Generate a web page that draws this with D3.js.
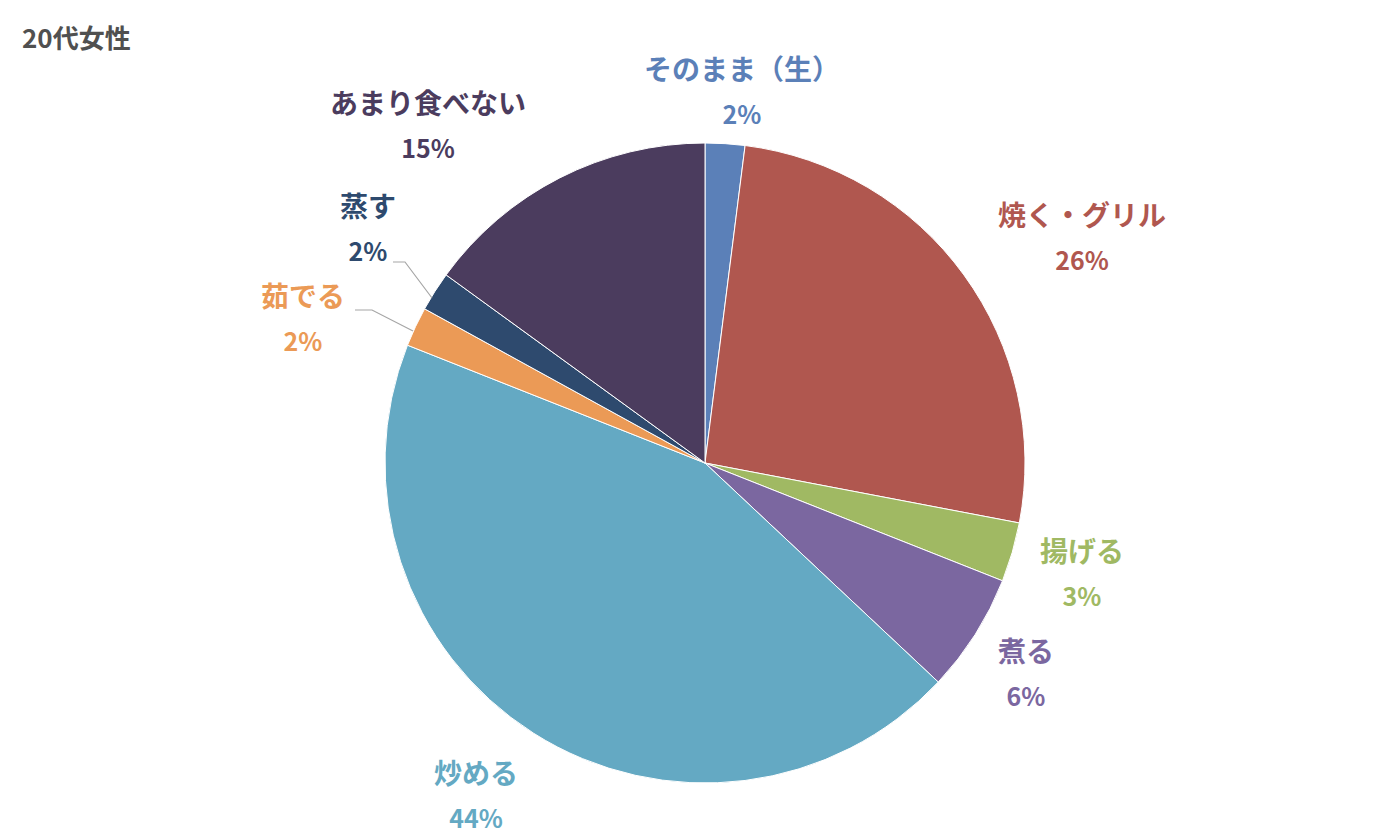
<!DOCTYPE html>
<html><head><meta charset="utf-8">
<script src="https://cdn.jsdelivr.net/npm/d3@7"></script>
<style>body{margin:0;background:#fff}text{font-family:"Noto Sans CJK JP","Noto Sans",sans-serif;font-weight:bold}</style>
</head><body><svg id="c" width="1400" height="840"></svg>
<script>
const categories = ["そのまま（生）","焼く・グリル","揚げる","煮る","炒める","茹でる","蒸す","あまり食べない"];
const values = [2,26,3,6,44,2,2,15];
const colors = ["#5B80B8","#B0574F","#A0B963","#7B67A0","#64A9C3","#EB9A56","#2E4A6E","#4B3C5E"];
const labelPos = [[742,70],[1082,216],[1082,552],[1026,652],[476,774],[303,297],[368,207],[428,104]];
const leaders = {5:[[355,310],[372,310],[413,331]],6:[[393,262],[405,262],[432,298]]};

const svg = d3.select("#c");
const cx=705, cy=463, r=320;
svg.append("text").attr("x",22).attr("y",48).attr("font-size",26).attr("fill","#505050").text("20代女性");
const pie = d3.pie().sort(null).value(d=>d)(values);
const arc = d3.arc().innerRadius(0).outerRadius(r);
const g = svg.append("g").attr("transform",`translate(${cx},${cy})`);
g.selectAll("path").data(pie).join("path").attr("d",arc)
 .attr("fill",(d,i)=>colors[i]).attr("stroke","#fff").attr("stroke-width",1);
Object.entries(leaders).forEach(([i,pts])=>{
  svg.append("path").attr("d",d3.line()(pts)).attr("fill","none").attr("stroke","#a6a6a6").attr("stroke-width",1.2);
});
categories.forEach((c,i)=>{
  const [x,y]=labelPos[i];
  const t=svg.append("text").attr("text-anchor","middle").attr("fill",colors[i]);
  t.append("tspan").attr("x",x).attr("y",y+10).attr("font-size",28).text(c);
  t.append("tspan").attr("x",x).attr("y",y+54).attr("font-size",25).text(values[i]+"%");
});
</script></body></html>
